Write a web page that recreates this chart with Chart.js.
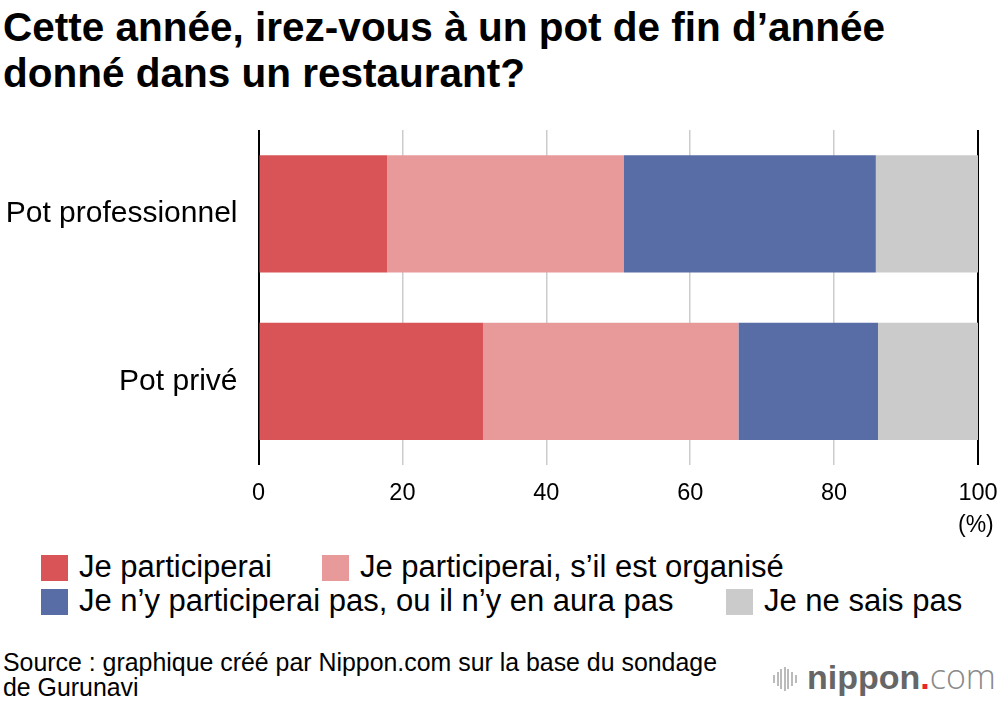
<!DOCTYPE html>
<html>
<head>
<meta charset="utf-8">
<script src="https://cdn.jsdelivr.net/npm/chart.js@4.4.1/dist/chart.umd.min.js"></script>
<style>
  body { margin: 0; background: #fff; font-family: "Liberation Sans", Arial, sans-serif; color: #000; }
  #page { position: relative; width: 1000px; height: 702px; overflow: hidden; }
  #title { position: absolute; left: 3px; top: 4px; font-size: 40.5px; font-weight: bold; line-height: 46px; white-space: nowrap; }
  #wrap { position: absolute; left: 0; top: 120px; width: 1000px; height: 420px; }
  #unit { position: absolute; left: 958px; top: 511px; font-size: 23px; }
  #legend { position: absolute; left: 0; top: 550px; font-size: 31px; }
  .item { position: absolute; white-space: nowrap; line-height: 30px; }
  .item span { display: inline-block; width: 27px; height: 26px; vertical-align: -4px; margin-right: 11px; }
  #source { position: absolute; left: 3px; top: 650px; font-size: 24.9px; line-height: 25px; white-space: nowrap; }
  #logo { position: absolute; left: 773px; top: 659px; height: 34px; font-size: 34px; line-height: 34px; color: #666; white-space: nowrap; }
  #logo .ic { display: inline-block; width: 26px; height: 24px; margin-right: 8px; position: relative; vertical-align: -2px; }
  #logo .ic i { position: absolute; width: 2px; background: #bbb; }
  #logo .t { font-weight: bold; }
  #logo .dot { color: #e8262a; font-weight: bold; }
  #logo .com { color: #8a8a8a; font-family: "Open Sans", sans-serif; font-weight: 300; }
</style>
</head>
<body>
<div id="page">
  <div id="title">Cette année, irez-vous à un pot de fin d’année<br>donné dans un restaurant?</div>
  <div id="wrap"><canvas id="chart"></canvas></div>
  <div id="unit">(%)</div>
  <div id="legend"></div>
  <div id="source">Source : graphique créé par Nippon.com sur la base du sondage<br>de Gurunavi</div>
  <div id="logo"><span class="ic"></span><span class="t">nippon</span><span class="dot">.</span><span class="com">com</span></div>
</div>
<script>
const categories = ["Pot professionnel", "Pot privé"];
const seriesNames = ["Je participerai", "Je participerai, s’il est organisé", "Je n’y participerai pas, ou il n’y en aura pas", "Je ne sais pas"];
const participerai = [17.9, 31.2];
const siOrganise = [32.9, 35.5];
const participeraiPas = [35.0, 19.4];
const neSaisPas = [14.2, 13.9];
const xTicks = [0, 20, 40, 60, 80, 100];

const colors = ["#d95457", "#e89a9b", "#586ca6", "#cbcbcb"];
const values = [participerai, siOrganise, participeraiPas, neSaisPas];

const canvas = document.querySelector("#chart");

// kill the automatic label-overflow padding so the plot area lands where we want
const noPad = axis => {
    axis.paddingLeft = 0; axis.paddingRight = 0;
    axis.paddingTop = 0; axis.paddingBottom = 0;
};

const chart = new Chart(canvas, {
    type: 'bar',
    data: {
        labels: categories,
        datasets: values.map((v, i) => ({
            label: seriesNames[i],
            data: v,
            backgroundColor: colors[i],
            borderWidth: 0,
            barPercentage: 0.7,
            categoryPercentage: 1
        }))
    },
    options: {
        indexAxis: 'y',
        responsive: true,
        maintainAspectRatio: false,
        animation: false,
        layout: { padding: { top: 10, right: 22, left: 0, bottom: 0 } },
        plugins: { legend: { display: false }, tooltip: { enabled: false } },
        scales: {
            x: {
                stacked: true,
                min: 0,
                max: 100,
                afterBuildTicks: axis => { axis.ticks = xTicks.map(v => ({ value: v })); },
                afterFit: axis => { axis.height = 75; noPad(axis); },
                border: { display: false },
                grid: {
                    drawTicks: false,
                    color: c => (c.tick.value === 0 || c.tick.value === 100) ? "#000" : "#cccccc",
                    lineWidth: c => (c.tick.value === 0 || c.tick.value === 100) ? 2 : 1.5
                },
                ticks: { color: "#000", padding: 14, maxRotation: 0, font: { family: "Liberation Sans", size: 23.5 } }
            },
            y: {
                stacked: true,
                afterFit: axis => { axis.width = 258.5; noPad(axis); },
                border: { display: false },
                grid: { display: false },
                ticks: { color: "#000", padding: 13, font: { family: "Liberation Sans", size: 30 } }
            }
        }
    }
});

// custom legend laid out like the reference
const legendPos = [[41, 2], [322, 2], [41, 36], [726, 36]];
const legend = document.querySelector("#legend");
chart.data.datasets.forEach((ds, i) => {
    const el = document.createElement("div");
    el.className = "item";
    el.style.left = legendPos[i][0] + "px";
    el.style.top = legendPos[i][1] + "px";
    el.innerHTML = `<span style="background:${ds.backgroundColor}"></span>${ds.label}`;
    legend.appendChild(el);
});

// little sound-wave mark of the logo
const barH = [8, 14, 20, 24, 20, 14, 8];
const ic = document.querySelector("#logo .ic");
barH.forEach((h, i) => {
    const b = document.createElement("i");
    b.style.left = (i * 3.6) + "px";
    b.style.top = ((24 - h) / 2) + "px";
    b.style.height = h + "px";
    ic.appendChild(b);
});
</script>
</body>
</html>
